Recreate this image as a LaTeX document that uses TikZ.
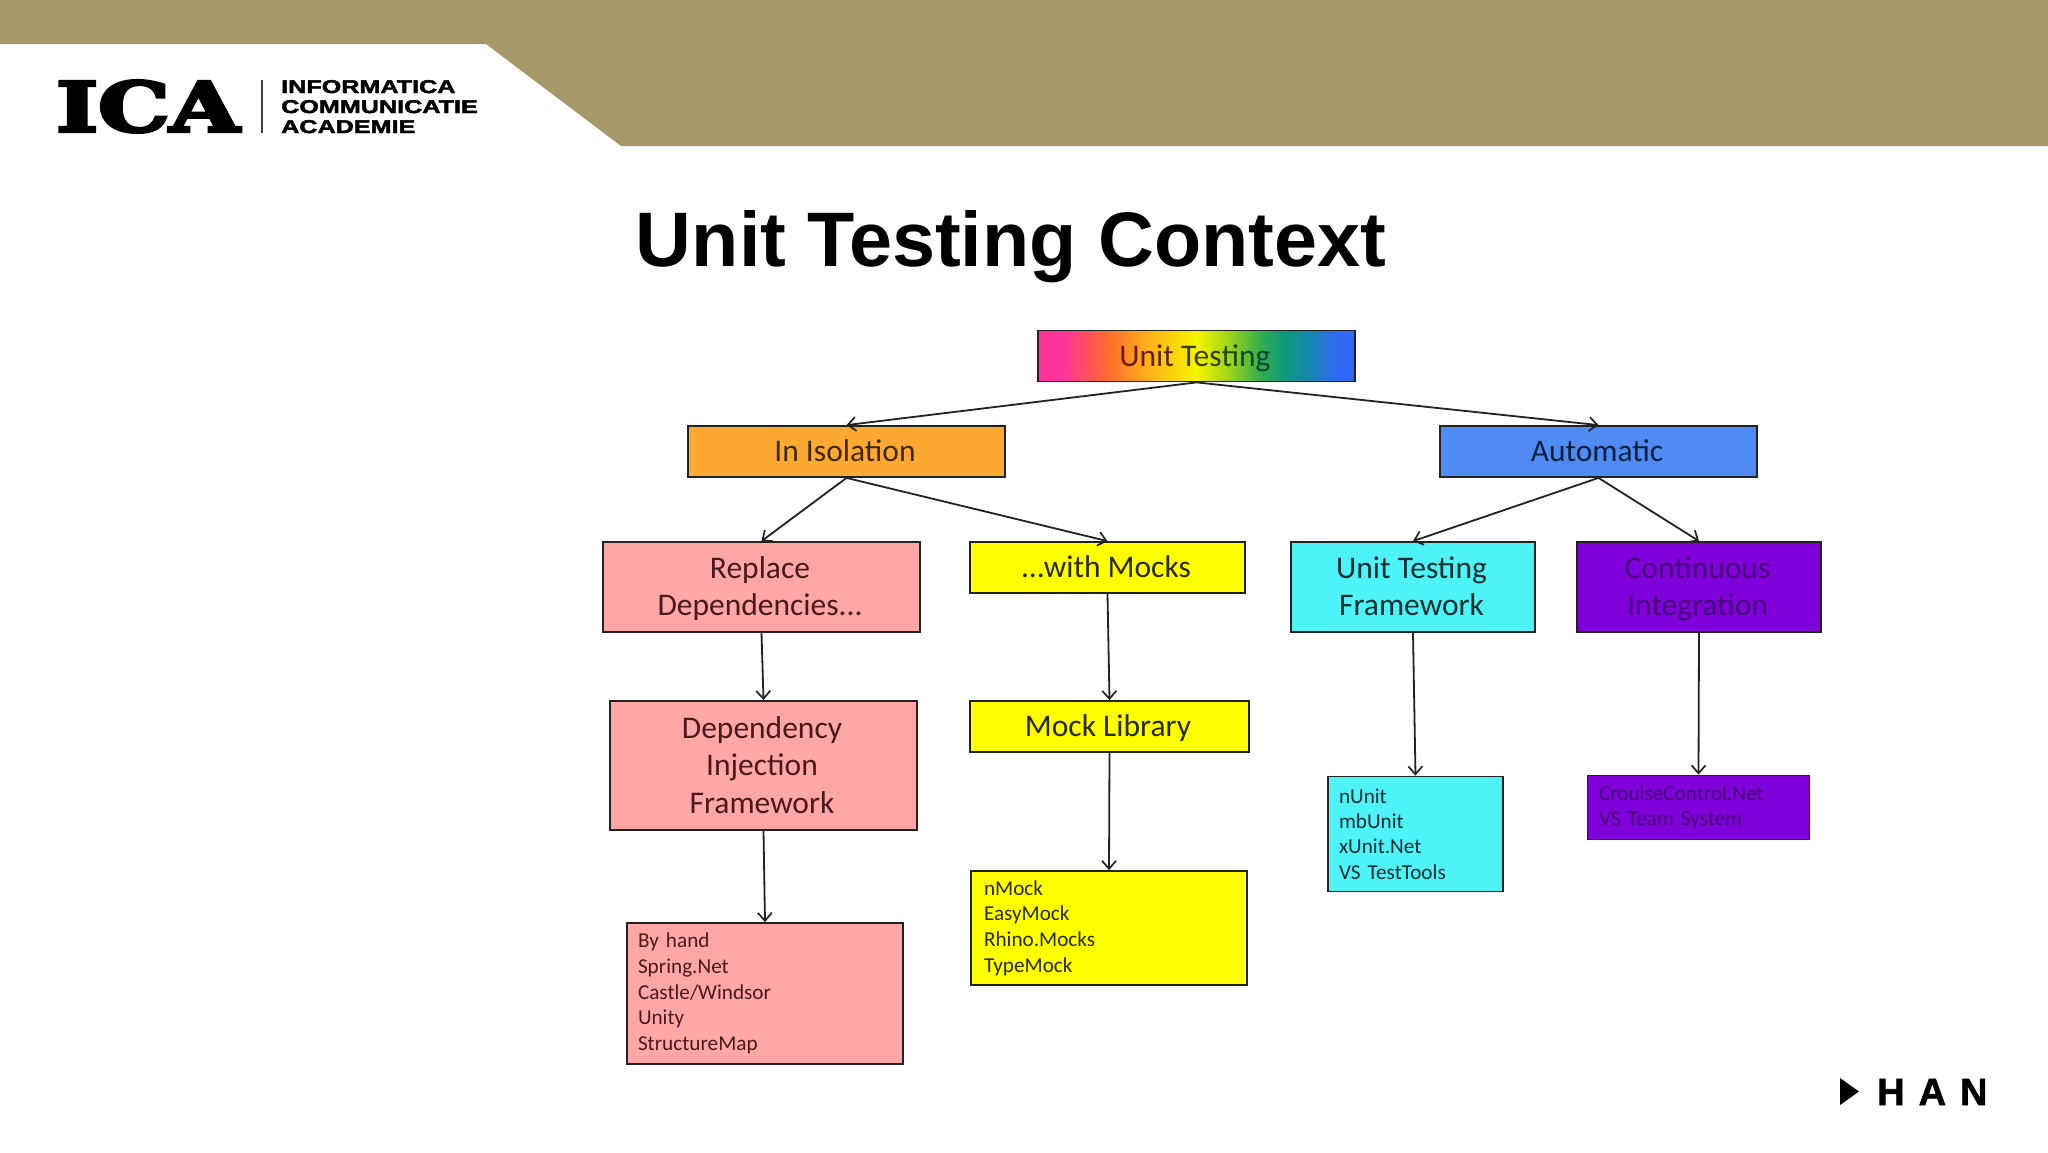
\documentclass[tikz,border=0pt]{standalone}
\usepackage{fontspec}
\setmainfont{Carlito}
\newfontfamily\arialb{Liberation Sans Bold}
\newfontfamily\wideb[FakeStretch=1.36,FakeBold=2.5]{Liberation Sans Bold}
\newfontfamily\hanb[FakeBold=1.5]{Liberation Sans Bold}
\newfontfamily\slabb[FakeBold=4.5]{DejaVu Serif Bold}
\usetikzlibrary{arrows.meta}
\definecolor{band}{HTML}{A69869}
\definecolor{orangeb}{HTML}{FBA931}
\definecolor{blueb}{HTML}{4F8BF2}
\definecolor{pinkb}{HTML}{FFA6A6}
\definecolor{yellowb}{HTML}{FFFF00}
\definecolor{cyanb}{HTML}{4DF3F7}
\definecolor{purpleb}{HTML}{7F00D8}
\definecolor{edgec}{HTML}{222222}
\definecolor{pinktxt}{HTML}{4A1A1A}
\definecolor{purptxt}{HTML}{48007C}
\definecolor{yeltxt}{HTML}{2A2A00}
\definecolor{cyantxt}{HTML}{0C3032}
\definecolor{orgtxt}{HTML}{40280C}
\definecolor{bluetxt}{HTML}{0C2040}
\pgfdeclarehorizontalshading{rainbowfill}{100bp}{
  rgb(0bp)=(1,.2,.6);
  rgb(29bp)=(1,.2,.6);
  rgb(36bp)=(1,.42,.18);
  rgb(42bp)=(1,.68,.1);
  rgb(50bp)=(.96,.96,0);
  rgb(55bp)=(.62,.84,.1);
  rgb(60bp)=(.2,.68,.3);
  rgb(64bp)=(.05,.6,.5);
  rgb(69bp)=(.1,.5,.75);
  rgb(72bp)=(.18,.41,.96);
  rgb(100bp)=(.18,.41,.96)}
\newcommand{\st}{\rule[-8.75pt]{0pt}{37.5pt}\kern-3pt }
\tikzset{
  every node/.style={inner sep=0pt},
  boxb/.style={draw=edgec,line width=1.8pt,align=center,font=\fontsize{31.5}{37.5}\selectfont},
  listb/.style={draw=edgec,line width=1.8pt,align=left,font=\fontsize{21.2}{25.6}\selectfont},
  conn/.style={draw=edgec,line width=1.8pt,-{Straight Barb[length=8pt,width=14pt,line width=1.7pt]}}
}
\begin{document}
\begin{tikzpicture}[x=1pt,y=-1pt]
\useasboundingbox (0,0) rectangle (2048,1152);
\fill[white] (0,0) rectangle (2048,1152);
\fill[band] (0,0) -- (2048,0) -- (2048,146) -- (621,146) -- (486,44) -- (0,44) -- cycle;
% logo
\node[anchor=base west] (ica) at (56,131.5) {\resizebox{183pt}{51pt}{\slabb ICA}};
\fill[black!75] (260.5,80) rectangle (262.5,133);
\node[anchor=base west,font=\fontsize{18.5}{20}\wideb] (l1) at (281,93) {INFORMATICA};
\node[anchor=base west,font=\fontsize{18.5}{20}\wideb] (l2) at (281,113) {COMMUNICATIE};
\node[anchor=base west,font=\fontsize{18.5}{20}\wideb] (l3) at (281,133) {ACADEMIE};
% title
\node[anchor=base,font=\fontsize{77.3}{80}\arialb] (title) at (1011,266) {Unit Testing Context};
% boxes
\node[boxb,shade,shading=rainbowfill,minimum width=317pt,minimum height=51pt] (ut) at (1196.5,356)
  {\st\color[HTML]{6A1A10}Un\color[HTML]{5A2A08}it \color[HTML]{3C3C00}Tes\color[HTML]{204A10}ti\color[HTML]{0C4A30}ng};
\node[boxb,fill=orangeb,text=orgtxt,minimum width=317pt,minimum height=51pt] (iso) at (846.5,451.5) {\st In Isolation};
\node[boxb,fill=blueb,text=bluetxt,minimum width=317pt,minimum height=51pt] (auto) at (1598.5,451.5) {\st Automatic};
\node[boxb,fill=pinkb,text=pinktxt,minimum width=317pt,minimum height=90pt] (rep) at (761.5,587) {\st Replace\\\st Dependencies...};
\node[boxb,fill=yellowb,text=yeltxt,minimum width=275pt,minimum height=51pt] (mocks) at (1107.5,567.5) {\st ...with Mocks};
\node[boxb,fill=cyanb,text=cyantxt,minimum width=244pt,minimum height=90pt] (utf) at (1413,587) {\st Unit Testing\\\st Framework};
\node[boxb,fill=purpleb,text=purptxt,minimum width=244pt,minimum height=90pt] (ci) at (1699,587) {\st Continuous\\\st Integration};
\node[boxb,fill=pinkb,text=pinktxt,minimum width=307pt,minimum height=129pt] (dif) at (763.5,765.5) {\st Dependency\\\st Injection\\\st Framework};
\node[boxb,fill=yellowb,text=yeltxt,minimum width=279pt,minimum height=51pt] (lib) at (1109.5,726.5) {\st Mock Library};
\node[listb,inner xsep=11pt,fill=pinkb,text=pinktxt,text width=254pt,minimum height=141pt] (byh) at (765,993.5) {By hand\\Spring.Net\\Castle/Windsor\\Unity\\StructureMap};
\node[listb,inner xsep=13pt,fill=yellowb,text=yeltxt,text width=250pt,minimum height=114pt] (nm) at (1109,928) {nMock\\EasyMock\\Rhino.Mocks\\TypeMock};
\node[listb,inner xsep=11pt,fill=cyanb,text=cyantxt,text width=153pt,font=\fontsize{21.2}{25.2}\selectfont,minimum height=115pt] (nu) at (1415.5,834) {nUnit\\mbUnit\\xUnit.Net\\VS TestTools};
\node[listb,inner xsep=11.5pt,fill=purpleb,text=purptxt,text width=199pt,minimum height=64pt] (cc) at (1698.5,807.5) {CrouiseControl.Net\\VS Team System};
% connectors
\draw[conn] (ut.south) -- (iso.north);
\draw[conn] (ut.south) -- (auto.north);
\draw[conn] (iso.south) -- (rep.north);
\draw[conn] (iso.south) -- (mocks.north);
\draw[conn] (auto.south) -- (utf.north);
\draw[conn] (auto.south) -- (ci.north);
\draw[conn] (rep.south) -- (dif.north);
\draw[conn] (dif.south) -- (byh.north);
\draw[conn] (mocks.south) -- (lib.north);
\draw[conn] (lib.south) -- (nm.north);
\draw[conn] (utf.south) -- (nu.north);
\draw[conn] (ci.south) -- (cc.north);
% HAN
\fill[black] (1840,1078) -- (1859,1091.5) -- (1840,1105) -- cycle;
\node[anchor=base west,font=\fontsize{38}{40}\hanb] (han) at (1877,1105) {H\hspace{14pt}A\hspace{14pt}N};
\end{tikzpicture}
\end{document}
